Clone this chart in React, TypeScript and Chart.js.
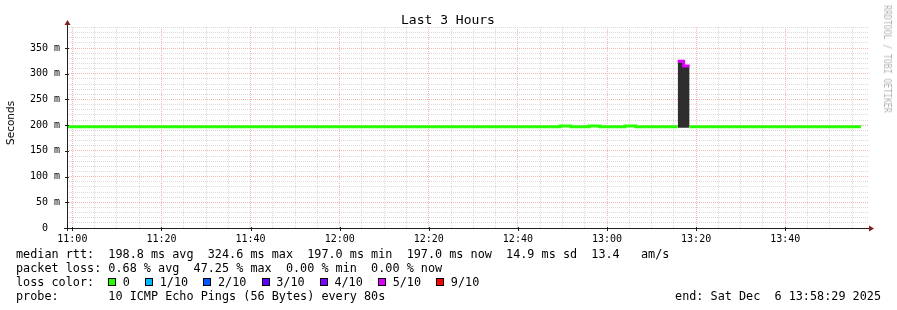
import React, { useEffect, useRef } from 'react';
import { Chart, registerables } from 'chart.js';

Chart.register(...registerables);

// ---------- data ----------
const titleText = 'Last 3 Hours';
const yAxisTitle = 'Seconds';
const watermarkText = 'RRDTOOL / TOBI OETIKER';

const windowStart = '10:58:48';
const windowEnd = '13:58:48';

// step boundaries (segment i spans stepTimes[i] .. stepTimes[i+1])
const stepTimes = ['10:58:48', '12:49:27', '12:51:55', '12:55:58', '12:58:25', '13:04:00', '13:06:28', '13:15:52', '13:17:12', '13:18:32', '13:57:00'];
const medianRtt = [197.0, 198.5, 197.0, 198.5, 197.0, 198.5, 197.0, 324.6, 315.0, 197.0];
const lossBucket = [0, 0, 0, 0, 0, 0, 0, 5, 5, 0];
const smokeHigh = [null, null, null, null, null, null, null, 326.0, 317.0, null];
const smokeLow = [null, null, null, null, null, null, null, 195.0, 195.0, null];

const lossLabels = ['0', '1/10', '2/10', '3/10', '4/10', '5/10', '9/10'];
const lossColors = ['#26ff00', '#00b8ff', '#0059ff', '#5e00ff', '#7e00ff', '#dd00ff', '#ff0000'];

const yTickValues = [0, 50, 100, 150, 200, 250, 300, 350];
const yTickLabels = ['0  ', '50 m', '100 m', '150 m', '200 m', '250 m', '300 m', '350 m'];
const xTickLabels = ['11:00', '11:20', '11:40', '12:00', '12:20', '12:40', '13:00', '13:20', '13:40'];
const xMinorStepMin = 5;

const rttStats = ['198.8 ms avg', '324.6 ms max', '197.0 ms min', '197.0 ms now', '14.9 ms sd'];
const rttExtra = '13.4   am/s';
const lossStats = ['0.68 % avg', '47.25 % max', '0.00 % min', '0.00 % now'];
const probeText = '10 ICMP Echo Pings (56 Bytes) every 80s';
const endText = 'end: Sat Dec  6 13:58:29 2025';

// ---------- helpers ----------
const toMin = (t: string) => {
  const [h, m, s] = t.split(':').map(Number);
  return h * 60 + m + (s || 0) / 60;
};
const fmtMin = (v: number) => {
  const r = Math.round(v);
  const h = Math.floor(r / 60);
  const m = r % 60;
  return `${h}:${m < 10 ? '0' : ''}${m}`;
};
const isXMajor = (v: number) => xTickLabels.includes(fmtMin(v));
const isYMajor = (v: number) => yTickValues.includes(Math.round(v));

function segmentPoints(values: (number | null)[], active: (i: number) => boolean) {
  const pts: { x: number; y: number | null }[] = [];
  for (let i = 0; i < values.length; i++) {
    const x0 = toMin(stepTimes[i]);
    const x1 = toMin(stepTimes[i + 1]);
    const v = values[i];
    if (active(i) && v != null) {
      pts.push({ x: x0, y: v }, { x: x1, y: v });
    } else {
      pts.push({ x: x0, y: null });
    }
  }
  return pts;
}

const MONO = "'DejaVu Sans Mono', monospace";
const minorGrid = '#dadada';
const majorGrid = '#f5b5b5';

const axesPlugin = {
  id: 'rrdAxes',
  afterDraw(chart: any) {
    const { ctx, chartArea: a, scales } = chart;
    ctx.save();
    ctx.strokeStyle = '#1f1f1f';
    ctx.lineWidth = 1;
    ctx.beginPath();
    ctx.moveTo(a.left - 3, a.bottom + 0.5);
    ctx.lineTo(a.right + 1, a.bottom + 0.5);
    ctx.moveTo(a.left + 0.5, a.bottom + 3);
    ctx.lineTo(a.left + 0.5, a.top - 3);
    // major tick marks
    scales.x.ticks.forEach((t: any) => {
      if (!isXMajor(t.value)) return;
      const px = Math.round(scales.x.getPixelForValue(t.value)) + 0.5;
      ctx.moveTo(px, a.bottom - 1);
      ctx.lineTo(px, a.bottom + 3);
    });
    scales.y.ticks.forEach((t: any) => {
      if (!isYMajor(t.value)) return;
      const py = Math.round(scales.y.getPixelForValue(t.value)) + 0.5;
      ctx.moveTo(a.left - 2, py);
      ctx.lineTo(a.left + 2, py);
    });
    ctx.stroke();
    ctx.fillStyle = '#801f1f';
    ctx.beginPath();
    ctx.moveTo(a.right, a.bottom + 0.5 - 3);
    ctx.lineTo(a.right + 5, a.bottom + 0.5);
    ctx.lineTo(a.right, a.bottom + 0.5 + 3);
    ctx.closePath();
    ctx.fill();
    ctx.beginPath();
    ctx.moveTo(a.left + 0.5 - 3, a.top - 2);
    ctx.lineTo(a.left + 0.5, a.top - 7);
    ctx.lineTo(a.left + 0.5 + 3, a.top - 2);
    ctx.closePath();
    ctx.fill();
    ctx.restore();
  },
};

export default function App() {
  const ref = useRef<HTMLCanvasElement>(null);

  useEffect(() => {
    if (!ref.current) return;
    const lineSets = lossColors.map((c, b) => ({
      label: lossLabels[b],
      data: segmentPoints(medianRtt, (i) => lossBucket[i] === b),
      borderColor: c,
      backgroundColor: c,
      borderWidth: 3,
      pointRadius: 0,
      fill: false,
      spanGaps: false,
      tension: 0,
      borderCapStyle: 'butt',
      order: 1,
    }));
    const smokeSets = [
      {
        label: 'smoke high',
        data: segmentPoints(smokeHigh, () => true),
        borderWidth: 0,
        borderColor: 'rgba(0,0,0,0)',
        backgroundColor: 'rgba(30,30,30,0.93)',
        pointRadius: 0,
        fill: '+1',
        spanGaps: false,
        tension: 0,
        order: 2,
      },
      {
        label: 'smoke low',
        data: segmentPoints(smokeLow, () => true),
        borderWidth: 0,
        borderColor: 'rgba(0,0,0,0)',
        backgroundColor: 'rgba(0,0,0,0)',
        pointRadius: 0,
        fill: false,
        spanGaps: false,
        tension: 0,
        order: 2,
      },
    ];

    const chart = new Chart(ref.current, {
      type: 'line',
      data: { datasets: [...lineSets, ...smokeSets] as any },
      options: {
        responsive: false,
        devicePixelRatio: 1,
        animation: false,
        events: [],
        layout: { padding: { left: 0, right: 28, top: 27, bottom: 62 } },
        plugins: {
          legend: { display: false },
          tooltip: { enabled: false },
          title: { display: false },
        },
        scales: {
          x: {
            type: 'linear',
            min: toMin(windowStart),
            max: toMin(windowEnd),
            afterBuildTicks: (s: any) => {
              const t: { value: number }[] = [];
              for (let v = Math.ceil(s.min / xMinorStepMin) * xMinorStepMin; v <= s.max; v += xMinorStepMin) t.push({ value: v });
              s.ticks = t;
            },
            afterFit: (s: any) => {
              s.height = 20;
            },
            ticks: {
              autoSkip: false,
              maxRotation: 0,
              minRotation: 0,
              padding: 5,
              color: '#000',
              font: { family: MONO, size: 10 },
              callback: (v: any) => (isXMajor(Number(v)) ? fmtMin(Number(v)) : ''),
            },
            grid: {
              lineWidth: 1,
              drawTicks: false,
              color: (ctx: any) => (ctx.tick && isXMajor(ctx.tick.value) ? majorGrid : minorGrid),
            },
            border: { display: false, dash: [1, 1] },
          },
          y: {
            type: 'linear',
            min: 0,
            max: 391,
            afterFit: (s: any) => {
              s.width = 67;
            },
            ticks: {
              stepSize: 10,
              includeBounds: false,
              autoSkip: false,
              padding: 7,
              color: '#000',
              font: { family: MONO, size: 10 },
              callback: (v: any) => {
                const idx = yTickValues.indexOf(Math.round(Number(v)));
                return idx >= 0 ? yTickLabels[idx] : '';
              },
            },
            grid: {
              lineWidth: 1,
              drawTicks: false,
              color: (ctx: any) => (ctx.tick && isYMajor(ctx.tick.value) ? majorGrid : minorGrid),
            },
            border: { display: false, dash: [1, 1] },
          },
        },
      } as any,
      plugins: [axesPlugin],
    });
    return () => chart.destroy();
  }, []);

  const rowStyle: React.CSSProperties = {
    position: 'absolute',
    left: 16,
    fontFamily: MONO,
    fontSize: '11.8px',
    lineHeight: '14px',
    whiteSpace: 'pre',
    color: '#000',
  };

  return (
    <div style={{ position: 'absolute', left: 0, top: 0, width: 897, height: 310, background: '#fff', overflow: 'hidden' }}>
      <canvas ref={ref} width={897} height={310} style={{ position: 'absolute', left: 0, top: 0, width: 897, height: 310 }} />
      <div
        style={{
          position: 'absolute',
          left: 0,
          top: 12,
          width: 896,
          textAlign: 'center',
          fontFamily: MONO,
          fontSize: '13px',
          lineHeight: '15px',
          whiteSpace: 'pre',
          color: '#000',
        }}
      >
        {titleText}
      </div>
      <div
        style={{
          position: 'absolute',
          left: 9.5,
          top: 123,
          transform: 'translate(-50%, -50%) rotate(-90deg)',
          fontFamily: "'DejaVu Sans', sans-serif",
          fontSize: '10.5px',
          lineHeight: '12px',
          whiteSpace: 'pre',
          color: '#000',
        }}
      >
        {yAxisTitle}
      </div>
      <div
        style={{
          position: 'absolute',
          left: 886.5,
          top: 59,
          transform: 'translate(-50%, -50%) rotate(90deg) scaleX(0.81)',
          fontFamily: MONO,
          fontSize: '10px',
          lineHeight: '12px',
          whiteSpace: 'pre',
          color: '#b4b4b4',
        }}
      >
        {watermarkText}
      </div>
      <div style={{ ...rowStyle, top: 247 }}>{'median rtt:  ' + rttStats.join('  ') + '  ' + rttExtra}</div>
      <div style={{ ...rowStyle, top: 261 }}>{'packet loss: ' + lossStats.join('  ')}</div>
      <div style={{ ...rowStyle, top: 275 }}>
        {'loss color:  '}
        {lossLabels.map((l, i) => (
          <React.Fragment key={l}>
            <span
              style={{
                display: 'inline-block',
                width: 6,
                height: 6,
                border: '1px solid #000',
                background: lossColors[i],
                marginRight: 6.5,
              }}
            />
            <span style={{ marginRight: 15.3 }}>{l}</span>
          </React.Fragment>
        ))}
      </div>
      <div style={{ ...rowStyle, top: 289 }}>{'probe:       ' + probeText}</div>
      <div style={{ ...rowStyle, top: 289, left: 'auto', right: 16 }}>{endText}</div>
    </div>
  );
}
